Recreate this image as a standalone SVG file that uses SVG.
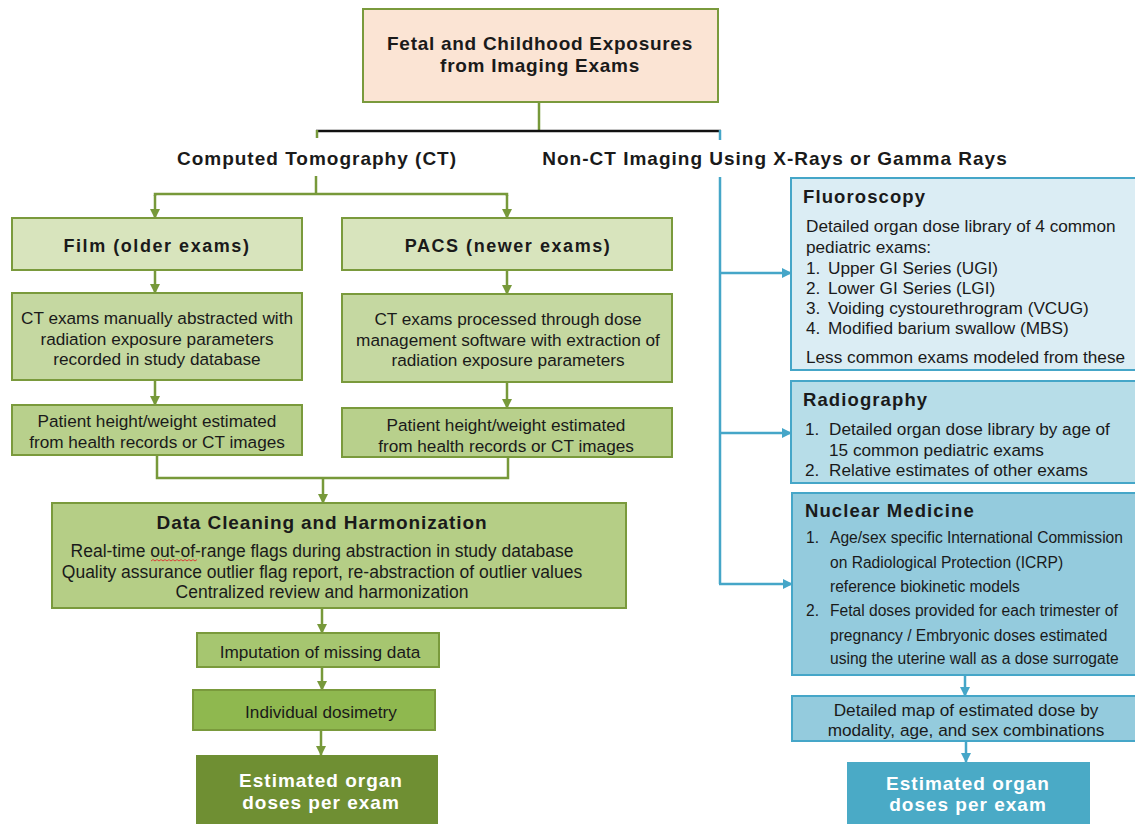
<svg xmlns="http://www.w3.org/2000/svg" width="1135" height="824" viewBox="0 0 1135 824">
<defs>
<marker id="ag" viewBox="0 0 10 10" refX="9" refY="5" markerWidth="10" markerHeight="10" markerUnits="userSpaceOnUse" orient="auto"><path d="M0,0 L10,5 L0,10 z" fill="#77993a"/></marker>
<marker id="ab" viewBox="0 0 10 10" refX="9" refY="5" markerWidth="10" markerHeight="10" markerUnits="userSpaceOnUse" orient="auto"><path d="M0,0 L10,5 L0,10 z" fill="#45a6c8"/></marker>
<style>
text{font-family:"Liberation Sans",Arial,sans-serif;fill:#1a1a1a}
.t{font-size:17.2px;text-anchor:middle}
.h{font-size:19px;letter-spacing:1px;font-weight:bold;text-anchor:middle}
.top{font-size:19px;letter-spacing:0.72px;font-weight:bold;text-anchor:middle}
.bt{font-size:18px;letter-spacing:1.55px;font-weight:bold;text-anchor:middle}
.dc{font-size:19px;letter-spacing:0.9px;font-weight:bold;text-anchor:middle}
.dl{font-size:17.5px;text-anchor:middle}
.st{font-size:18.5px;letter-spacing:1.1px;font-weight:bold}
.l{font-size:17.2px}
.n{font-size:15.6px}
.w{fill:#ffffff;font-weight:bold;font-size:19px;letter-spacing:1px;text-anchor:middle}
.g{stroke:#7a9a3c;stroke-width:2}
.bl{stroke:#45a6c8;stroke-width:2}
.cg{stroke:#77993a;stroke-width:2.5;fill:none}
.cb{stroke:#45a6c8;stroke-width:2.5;fill:none}
</style>
</defs>
<rect width="1135" height="824" fill="#ffffff"/>

<g id="connectors">
<line x1="539" y1="102" x2="539" y2="131" class="cg"/>
<line x1="316" y1="131" x2="721" y2="131" stroke="#111" stroke-width="2.5"/>
<line x1="317" y1="130" x2="317" y2="138" class="cg"/>
<line x1="720" y1="130" x2="720" y2="140" class="cb"/>
<line x1="316" y1="176" x2="316" y2="194" class="cg"/>
<polyline points="155,196 155,194 507,194 507,196" class="cg"/>
<line x1="155" y1="195" x2="155" y2="218" class="cg" marker-end="url(#ag)"/>
<line x1="507" y1="195" x2="507" y2="218" class="cg" marker-end="url(#ag)"/>
<line x1="155" y1="270" x2="155" y2="293" class="cg" marker-end="url(#ag)"/>
<line x1="507" y1="270" x2="507" y2="294" class="cg" marker-end="url(#ag)"/>
<line x1="155" y1="380" x2="155" y2="405" class="cg" marker-end="url(#ag)"/>
<line x1="507" y1="382" x2="507" y2="408" class="cg" marker-end="url(#ag)"/>
<polyline points="157,455 157,478 508,478 508,457" class="cg"/>
<line x1="323" y1="478" x2="323" y2="503" class="cg" marker-end="url(#ag)"/>
<line x1="322" y1="608" x2="322" y2="633" class="cg" marker-end="url(#ag)"/>
<line x1="322" y1="667" x2="322" y2="690" class="cg" marker-end="url(#ag)"/>
<line x1="321" y1="730" x2="321" y2="755" class="cg" marker-end="url(#ag)"/>
<line x1="720" y1="177" x2="720" y2="584" class="cb"/>
<line x1="719" y1="273" x2="791" y2="273" class="cb" marker-end="url(#ab)"/>
<line x1="719" y1="433" x2="791" y2="433" class="cb" marker-end="url(#ab)"/>
<line x1="719" y1="584" x2="792" y2="584" class="cb" marker-end="url(#ab)"/>
<line x1="965" y1="675" x2="965" y2="696" class="cb" marker-end="url(#ab)"/>
<line x1="966" y1="741" x2="966" y2="762" class="cb" marker-end="url(#ab)"/>
</g>

<g id="root">
<rect x="363" y="9" width="355" height="93" fill="#fbe4d4" class="g"/>
<text x="540" y="50" class="top">Fetal and Childhood Exposures</text>
<text x="540" y="72" class="top">from Imaging Exams</text>
</g>

<g id="heading-ct">
<text x="317" y="165" class="h">Computed Tomography (CT)</text>
</g>
<g id="heading-nonct">
<text x="775" y="165" class="h">Non-CT Imaging Using X-Rays or Gamma Rays</text>
</g>

<g id="film">
<rect x="12" y="218" width="290" height="52" fill="#d8e4bd" class="g"/>
<text x="157" y="252" class="bt">Film (older exams)</text>
</g>
<g id="pacs">
<rect x="342" y="218" width="330" height="52" fill="#d8e4bd" class="g"/>
<text x="508" y="252" class="bt">PACS (newer exams)</text>
</g>

<g id="film-abstract">
<rect x="12" y="293" width="290" height="87" fill="#c5d8a1" class="g"/>
<text x="157" y="324" class="t">CT exams manually abstracted with</text>
<text x="157" y="345" class="t">radiation exposure parameters</text>
<text x="157" y="365" class="t">recorded in study database</text>
</g>
<g id="pacs-process">
<rect x="342" y="294" width="330" height="88" fill="#c5d8a1" class="g"/>
<text x="508" y="325" class="t">CT exams processed through dose</text>
<text x="508" y="346" class="t">management software with extraction of</text>
<text x="508" y="366" class="t">radiation exposure parameters</text>
</g>

<g id="film-patient">
<rect x="12" y="405" width="290" height="50" fill="#b8d08c" class="g"/>
<text x="157" y="427" class="t">Patient height/weight estimated</text>
<text x="157" y="448" class="t">from health records or CT images</text>
</g>
<g id="pacs-patient">
<rect x="342" y="408" width="330" height="49" fill="#b8d08c" class="g"/>
<text x="506" y="431" class="t">Patient height/weight estimated</text>
<text x="506" y="452" class="t">from health records or CT images</text>
</g>

<g id="data-cleaning">
<rect x="52" y="503" width="574" height="105" fill="#b5ce86" class="g"/>
<text x="322" y="529" class="dc">Data Cleaning and Harmonization</text>
<text x="322" y="557" class="dl">Real-time out-of-range flags during abstraction in study database</text>
<text x="322" y="578" class="dl">Quality assurance outlier flag report, re-abstraction of outlier values</text>
<text x="322" y="598" class="dl">Centralized review and harmonization</text>
<path d="M151,561 l2,-1.5 l2,1.5 l2,-1.5 l2,1.5 l2,-1.5 l2,1.5 l2,-1.5 l2,1.5 l2,-1.5 l2,1.5 l2,-1.5 l2,1.5 l2,-1.5 l2,1.5 l2,-1.5 l2,1.5 l2,-1.5 l2,1.5 l2,-1.5 l2,1.5 l2,-1.5 l2,1.5 l2,-1.5" fill="none" stroke="#e03030" stroke-width="0.9"/>
</g>

<g id="imputation">
<rect x="197" y="633" width="242" height="34" fill="#a6c670" class="g"/>
<text x="320" y="658" class="t">Imputation of missing data</text>
</g>
<g id="dosimetry">
<rect x="193" y="690" width="242" height="40" fill="#8fb84f" class="g"/>
<text x="321" y="718" class="t">Individual dosimetry</text>
</g>
<g id="estimated-ct">
<rect x="196" y="755" width="242" height="72" fill="#6f8f33"/>
<text x="321" y="787" class="w">Estimated organ</text>
<text x="321" y="809" class="w">doses per exam</text>
</g>

<g id="fluoroscopy">
<rect x="791" y="178" width="350" height="192" fill="#dbedf4" class="bl"/>
<text x="803" y="203" class="st">Fluoroscopy</text>
<text x="806" y="232" class="l">Detailed organ dose library of 4 common</text>
<text x="806" y="253" class="l">pediatric exams:</text>
<text x="806" y="274" class="l">1.</text><text x="828" y="274" class="l">Upper GI Series (UGI)</text>
<text x="806" y="294" class="l">2.</text><text x="828" y="294" class="l">Lower GI Series (LGI)</text>
<text x="806" y="314" class="l">3.</text><text x="828" y="314" class="l">Voiding cystourethrogram (VCUG)</text>
<text x="806" y="334" class="l">4.</text><text x="828" y="334" class="l">Modified barium swallow (MBS)</text>
<text x="806" y="363" class="l">Less common exams modeled from these</text>
</g>

<g id="radiography">
<rect x="791" y="381" width="350" height="102" fill="#b7dde8" class="bl"/>
<text x="803" y="406" class="st">Radiography</text>
<text x="805" y="435" class="l">1.</text><text x="829" y="435" class="l">Detailed organ dose library by age of</text>
<text x="829" y="456" class="l">15 common pediatric exams</text>
<text x="805" y="476" class="l">2.</text><text x="829" y="476" class="l">Relative estimates of other exams</text>
</g>

<g id="nuclear-medicine">
<rect x="792" y="493" width="350" height="182" fill="#94cbdd" class="bl"/>
<text x="805" y="517" class="st">Nuclear Medicine</text>
<text x="806" y="543" class="n">1.</text>
<text x="830" y="543" class="n">Age/sex specific International Commission</text>
<text x="830" y="568" class="n">on Radiological Protection (ICRP)</text>
<text x="830" y="592" class="n">reference biokinetic models</text>
<text x="806" y="616" class="n">2.</text>
<text x="830" y="616" class="n">Fetal doses provided for each trimester of</text>
<text x="830" y="641" class="n">pregnancy / Embryonic doses estimated</text>
<text x="830" y="664" class="n">using the uterine wall as a dose surrogate</text>
</g>

<g id="dose-map">
<rect x="792" y="696" width="350" height="45" fill="#94cbdd" class="bl"/>
<text x="966" y="716" class="t">Detailed map of estimated dose by</text>
<text x="966" y="736" class="t">modality, age, and sex combinations</text>
</g>

<g id="estimated-nonct">
<rect x="847" y="762" width="243" height="66" fill="#4aaac6"/>
<text x="968" y="790" class="w">Estimated organ</text>
<text x="968" y="811" class="w">doses per exam</text>
</g>
</svg>
